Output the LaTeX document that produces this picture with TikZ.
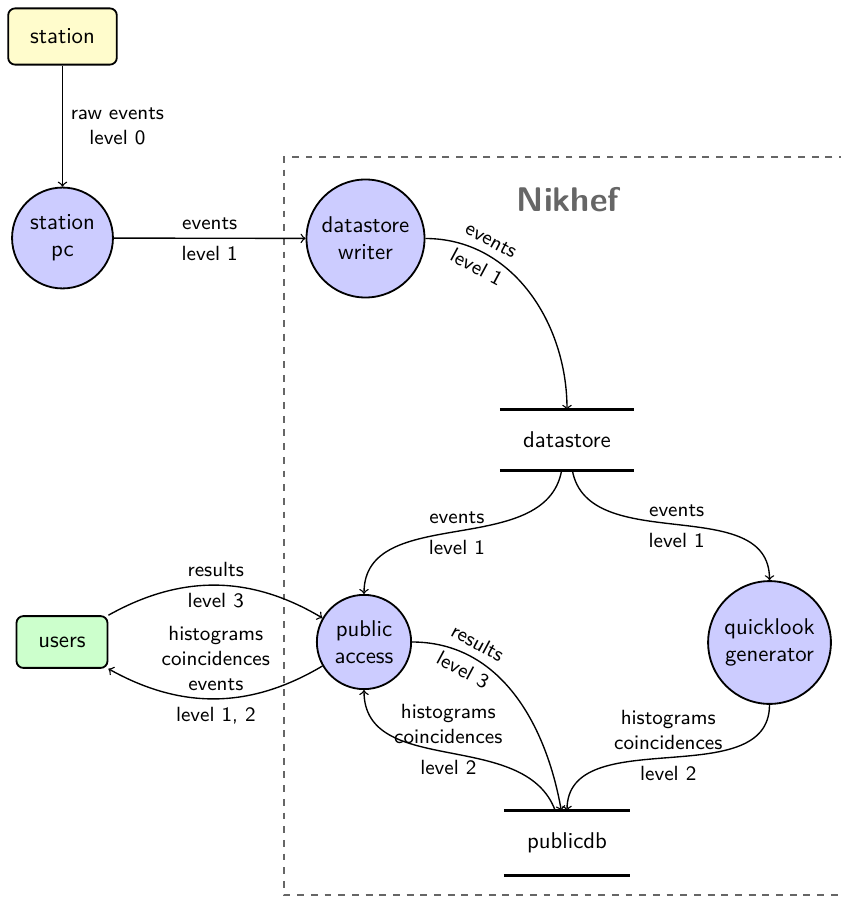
\documentclass[tikz,border=0pt]{standalone}
\renewcommand\familydefault{\sfdefault}
\begin{document}
\begin{tikzpicture}[x=0.4386pt,y=0.4386pt,
  proc/.style={circle,draw,thick,fill=blue!20,align=center},
  ext/.style={rectangle,rounded corners=3pt,draw,thick,inner xsep=9.6pt,inner ysep=9pt},
  store/.style={rectangle,inner xsep=10pt,inner ysep=9.5pt},
  lbl/.style={font=\small,align=center},
  flow/.style={->,semithick}]
\useasboundingbox (0,0) rectangle (841,-897);
% Nikhef boundary
\draw[black!60,very thick,dashed] (846,-157) -| (284,-895) -- (846,-895);
\node[text=black!60,font=\fontsize{15}{18}\selectfont\bfseries] (nikhef) at (568,-200) {Nikhef};
% nodes
\node[ext,fill=yellow!20] (station) at (62.5,-36.5) {station};
\node[proc] (stationpc) at (62.5,-238) {station\\pc};
\node[proc] (writer) at (365.5,-238.5) {datastore\\writer};
\node[store] (datastore) at (567,-440) {datastore};
\node[proc] (public) at (364,-642) {public\\access};
\node[ext,fill=green!20] (users) at (62,-642) {users};
\node[proc] (quicklook) at (769.5,-642.5) {quicklook\\generator};
\node[store] (publicdb) at (567,-843) {publicdb};
\draw[very thick] (datastore.north west) -- (datastore.north east)
  (datastore.south west) -- (datastore.south east);
\draw[very thick] (publicdb.north west) -- (publicdb.north east)
  (publicdb.south west) -- (publicdb.south east);
% flows
\draw[flow] (station) -- node[lbl,right]{raw events\\level 0} (stationpc);
\draw[flow] (stationpc) -- node[lbl,above]{events} node[lbl,below]{level 1} (writer);
\draw[flow] (writer) to[out=0,in=90]
  node[lbl,sloped,above,pos=0.25]{events} node[lbl,sloped,below,pos=0.25]{level 1} (datastore);
\draw[flow] (datastore) to[out=-100,in=90]
  node[lbl,above]{events} node[lbl,below]{level 1} (public);
\draw[flow] (datastore) to[out=-80,in=90]
  node[lbl,above]{events} node[lbl,below]{level 1} (quicklook);
\draw[flow] (users) to[bend left]
  node[lbl,above]{results} node[lbl,below]{level 3} (public);
\draw[flow] (public) to[bend left]
  node[lbl,above]{histograms\\coincidences\\events} node[lbl,below]{level 1, 2} (users);
\draw[flow] (public) to[out=0,in=100]
  node[lbl,sloped,above,pos=0.25]{results} node[lbl,sloped,below,pos=0.25]{level 3} (publicdb);
\draw[flow] (publicdb) to[out=110,in=-90]
  node[lbl,above]{histograms\\coincidences} node[lbl,below]{level 2} (public);
\draw[flow] (quicklook) to[out=-90,in=90]
  node[lbl,above]{histograms\\coincidences} node[lbl,below]{level 2} (publicdb);
\end{tikzpicture}
\end{document}
